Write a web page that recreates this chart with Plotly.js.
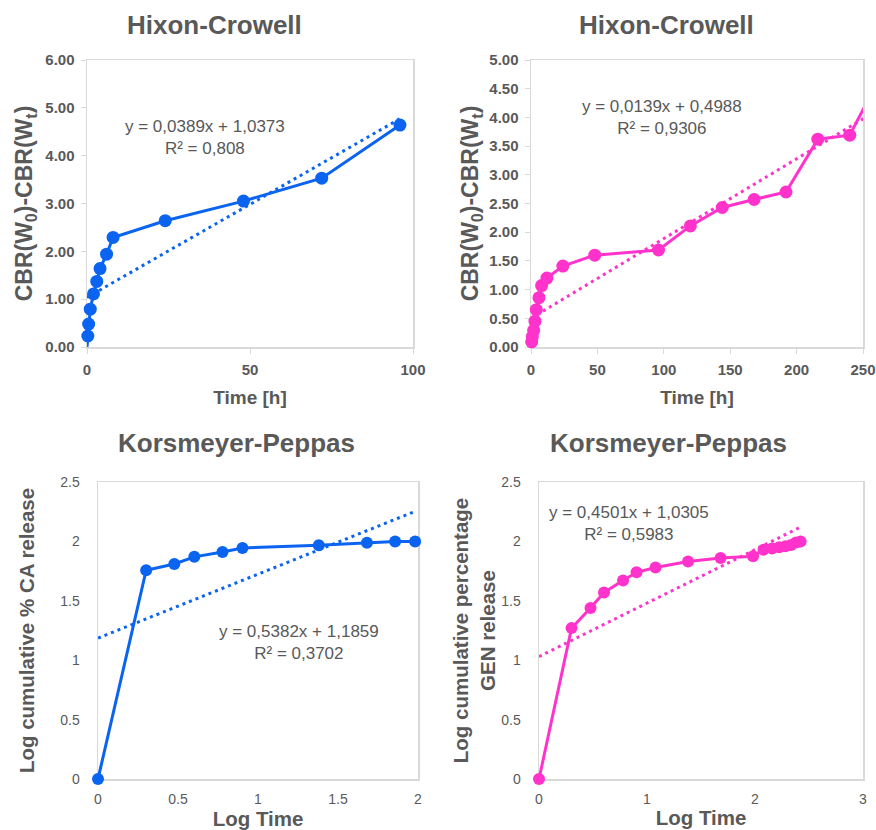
<!DOCTYPE html>
<html>
<head>
<meta charset="utf-8">
<script src="https://cdn.plot.ly/plotly-3.0.1.min.js"></script>
<style>html,body{margin:0;padding:0;background:#fff;}#chart{width:876px;height:830px;}</style>
</head>
<body>
<div id="chart"></div>
<script>
// ---------- data ----------
// Hixon-Crowell, CA (blue)
const hcCaTime = [0, 0.25, 0.5, 1, 2, 3, 4, 6, 8, 24, 48, 72, 96];
const hcCaValue = [0, 0.23, 0.48, 0.79, 1.11, 1.37, 1.64, 1.94, 2.29, 2.64, 3.05, 3.53, 4.64];
const hcCaFit = {slope: 0.0389, intercept: 1.0373};
// Hixon-Crowell, GEN (pink)
const hcGenTime = [0.5, 1, 2, 3, 4, 6, 8, 12, 24, 48, 96, 120, 144, 168, 192, 216, 240, 264];
const hcGenValue = [0.09, 0.18, 0.29, 0.45, 0.65, 0.86, 1.07, 1.20, 1.41, 1.60, 1.69, 2.11, 2.43, 2.57, 2.70, 3.62, 3.69, 4.75];
const hcGenFit = {slope: 0.0139, intercept: 0.4988};
// Korsmeyer-Peppas, CA (blue)
const kpCaLogTime = [0, 0.301, 0.477, 0.602, 0.778, 0.903, 1.380, 1.681, 1.857, 1.982];
const kpCaLogRel = [0, 1.757, 1.81, 1.87, 1.91, 1.945, 1.968, 1.988, 2.00, 2.00];
const kpCaFit = {slope: 0.5382, intercept: 1.1859};
// Korsmeyer-Peppas, GEN (pink)
const kpGenLogTime = [0, 0.301, 0.477, 0.602, 0.778, 0.903, 1.079, 1.380, 1.681, 1.982, 2.079, 2.158, 2.225, 2.283, 2.334, 2.380, 2.422];
const kpGenLogRel = [0, 1.27, 1.44, 1.57, 1.67, 1.74, 1.78, 1.83, 1.86, 1.875, 1.93, 1.94, 1.95, 1.96, 1.97, 1.99, 2.00];
const kpGenFit = {slope: 0.4501, intercept: 1.0305};

const eqCa1 = ["y = 0,0389x + 1,0373", "R² = 0,808"];
const eqGen1 = ["y = 0,0139x + 0,4988", "R² = 0,9306"];
const eqCa2 = ["y = 0,5382x + 1,1859", "R² = 0,3702"];
const eqGen2 = ["y = 0,4501x + 1,0305", "R² = 0,5983"];

// ---------- style ----------
const BLUE = '#0a64f0';
const PINK = '#ff33cc';
const GREY = '#595959';
const FONT = 'Liberation Sans, Arial, sans-serif';

function dataTrace(x, y, color, xa, ya, msize, hideFirst) {
  const sizes = x.map((v, i) => (hideFirst && i === 0) ? 0 : msize);
  return {x: x, y: y, xaxis: xa, yaxis: ya, type: 'scatter', mode: 'lines+markers',
    line: {color: color, width: 3},
    marker: {color: color, size: sizes, opacity: 1, line: {width: 0}},
    cliponaxis: false, showlegend: false, hoverinfo: 'x+y'};
}
function fitTrace(x, fit, color, xa, ya) {
  const x0 = 0, x1 = x[x.length - 1];
  return {x: [x0, x1], y: [fit.intercept + fit.slope * x0, fit.intercept + fit.slope * x1],
    xaxis: xa, yaxis: ya, type: 'scatter', mode: 'lines',
    line: {color: color, width: 3, dash: '3px,4px'}, showlegend: false, hoverinfo: 'skip'};
}

const traces = [
  fitTrace(hcCaTime, hcCaFit, BLUE, 'x', 'y'),
  dataTrace(hcCaTime, hcCaValue, BLUE, 'x', 'y', 13, true),
  fitTrace(hcGenTime, hcGenFit, PINK, 'x2', 'y2'),
  dataTrace(hcGenTime, hcGenValue, PINK, 'x2', 'y2', 13, false),
  fitTrace(kpCaLogTime, kpCaFit, BLUE, 'x3', 'y3'),
  dataTrace(kpCaLogTime, kpCaLogRel, BLUE, 'x3', 'y3', 12, false),
  fitTrace(kpGenLogTime, kpGenFit, PINK, 'x4', 'y4'),
  dataTrace(kpGenLogTime, kpGenLogRel, PINK, 'x4', 'y4', 12, false)
];

const W = 876, H = 830;
function xd(a, b) { return [a / W, b / W]; }
function yd(top, bottom) { return [1 - bottom / H, 1 - top / H]; }

function axisBase(extra) {
  return Object.assign({
    showgrid: false, zeroline: false, showline: true, mirror: true,
    linecolor: '#d9d9d9', linewidth: 1.5, automargin: false, layer: 'below traces',
    tickfont: {family: FONT, size: 14, color: GREY},
    ticks: '', fixedrange: true
  }, extra);
}
const topTickFont = {family: FONT, size: 15, color: GREY, weight: 'bold'};
const topTicks = {ticks: 'outside', ticklen: 5, tickcolor: '#d9d9d9', tickfont: topTickFont, ticklabelstandoff: 3};
const ttl = (text, size, standoff) => ({text: text, font: {family: FONT, size: size, weight: 'bold', color: GREY}, standoff: standoff});

const layout = {
  width: W, height: H, margin: {l: 0, r: 0, t: 0, b: 0, autoexpand: false},
  paper_bgcolor: '#fff', plot_bgcolor: '#fff',
  font: {family: FONT, color: GREY},
  xaxis: axisBase(Object.assign({domain: xd(87, 413), anchor: 'y', range: [0, 100], dtick: 50,
    title: ttl('Time [h]', 19, 14)}, topTicks)),
  yaxis: axisBase(Object.assign({domain: yd(60, 347), anchor: 'x', range: [0, 6], dtick: 1, tickformat: '.2f',
    title: ttl('CBR(W<sub>0</sub>)-CBR(W<sub>t</sub>)', 23, 6)}, topTicks)),
  xaxis2: axisBase(Object.assign({domain: xd(531, 863), anchor: 'y2', range: [0, 250], dtick: 50,
    title: ttl('Time [h]', 19, 14)}, topTicks)),
  yaxis2: axisBase(Object.assign({domain: yd(60, 347), anchor: 'x2', range: [0, 5], dtick: 0.5, tickformat: '.2f',
    title: ttl('CBR(W<sub>0</sub>)-CBR(W<sub>t</sub>)', 23, 4)}, topTicks)),
  xaxis3: axisBase({domain: xd(98, 418), anchor: 'y3', range: [0, 2], dtick: 0.5, ticklabelstandoff: 7,
    title: ttl('Log Time', 20.5, 0)}),
  yaxis3: axisBase({domain: yd(482, 779), anchor: 'x3', range: [0, 2.5], dtick: 0.5, ticklabelstandoff: 14,
    title: ttl('Log cumulative % CA release', 20.5, 20)}),
  xaxis4: axisBase({domain: xd(539, 863), anchor: 'y4', range: [0, 3], dtick: 1, ticklabelstandoff: 7,
    title: ttl('Log Time', 20.5, 4)}),
  yaxis4: axisBase({domain: yd(482, 779), anchor: 'x4', range: [0, 2.5], dtick: 0.5, ticklabelstandoff: 14,
    title: ttl('Log cumulative percentage<br>GEN release', 20.5, 0)}),
  annotations: [
    {text: '<b>Hixon-Crowell</b>', x: 214, y: 25, size: 26},
    {text: '<b>Hixon-Crowell</b>', x: 666, y: 25, size: 26},
    {text: '<b>Korsmeyer-Peppas</b>', x: 236, y: 443, size: 26},
    {text: '<b>Korsmeyer-Peppas</b>', x: 668, y: 443, size: 26},
    {text: eqCa1.join('<br>'), x: 205, y: 137, size: 17},
    {text: eqGen1.join('<br>'), x: 662, y: 118, size: 17},
    {text: eqCa2.join('<br>'), x: 299, y: 642, size: 17},
    {text: eqGen2.join('<br>'), x: 629, y: 523, size: 17}
  ].map(a => ({text: a.text, xref: 'paper', yref: 'paper', x: a.x / W, y: 1 - a.y / H,
    xanchor: 'center', yanchor: 'middle', align: 'center', showarrow: false,
    font: {family: FONT, size: a.size, color: GREY}}))
};

Plotly.newPlot('chart', traces, layout, {displayModeBar: false, staticPlot: true});
</script>
</body>
</html>
